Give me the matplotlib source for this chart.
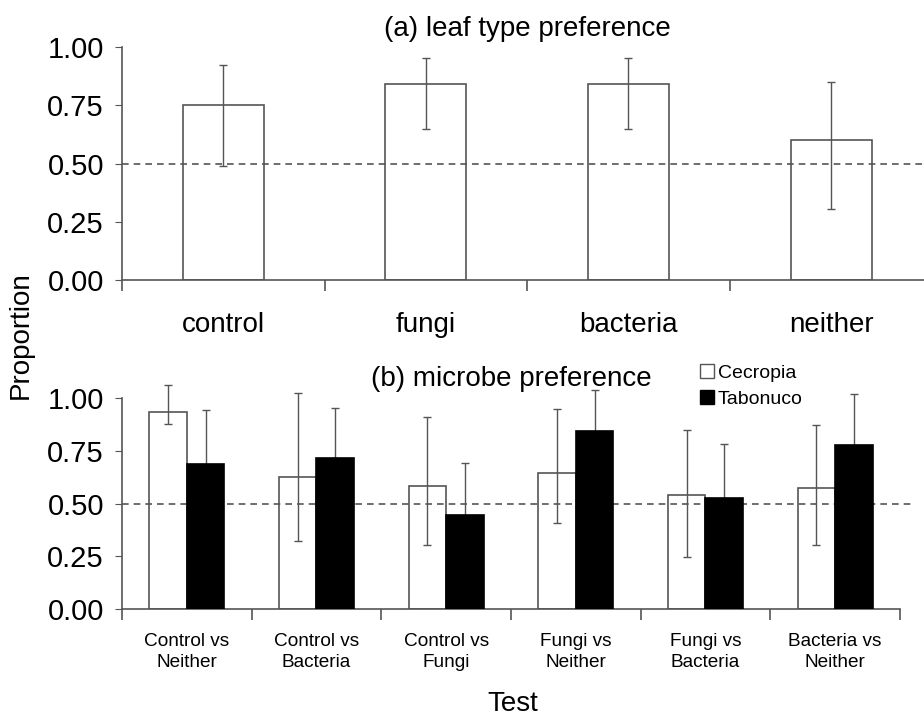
import matplotlib
matplotlib.use("Agg")
import matplotlib.pyplot as plt
import numpy as np
from matplotlib.patches import Patch

plt.rcParams['font.family'] = ['Liberation Sans', 'DejaVu Sans']

# (a) leaf type preference
leaf_cats = ["control", "fungi", "bacteria", "neither"]
leaf_vals = [0.75, 0.84, 0.84, 0.60]
leaf_lo = [0.49, 0.65, 0.65, 0.305]
leaf_hi = [0.925, 0.955, 0.955, 0.85]

# (b) microbe preference
tests = ["Control vs\nNeither", "Control vs\nBacteria", "Control vs\nFungi",
         "Fungi vs\nNeither", "Fungi vs\nBacteria", "Bacteria vs\nNeither"]
cec_vals = [0.935, 0.625, 0.585, 0.645, 0.54, 0.575]
cec_lo = [0.878, 0.324, 0.304, 0.407, 0.248, 0.304]
cec_hi = [1.063, 1.027, 0.911, 0.951, 0.850, 0.873]
tab_vals = [0.687, 0.717, 0.446, 0.845, 0.528, 0.78]
tab_hi = [0.943, 0.954, 0.691, 1.04, 0.785, 1.019]

edge = "#555555"

fig = plt.figure(figsize=(9.24, 7.18), dpi=100)

def style_axis(ax, n):
    for s in ["top", "right"]:
        ax.spines[s].set_visible(False)
    for s in ["left", "bottom"]:
        ax.spines[s].set_color(edge)
        ax.spines[s].set_linewidth(1.2)
    ax.set_ylim(0, 1)
    ax.set_yticks([0, 0.25, 0.5, 0.75, 1.0])
    ax.set_yticklabels(["0.00", "0.25", "0.50", "0.75", "1.00"])
    ax.set_xlim(0, n)
    ax.set_xticks(np.arange(0, n + 1))
    ax.set_xticklabels([])
    ax.tick_params(axis="y", direction="out", length=5, color=edge, labelsize=21, pad=8)
    ax.tick_params(axis="x", which="major", direction="out", length=8, color=edge, width=1.2)
    ax.tick_params(axis="x", which="minor", length=0)

# panel a
ax1 = fig.add_axes([0.132, 0.610, 0.877, 0.3245])
style_axis(ax1, 4)
xa = np.arange(len(leaf_cats)) + 0.5
va = np.array(leaf_vals)
ax1.bar(xa, va, width=0.4, color="white", edgecolor=edge, linewidth=1.2, zorder=1)
ax1.axhline(0.5, color=edge, linestyle=(0, (4, 3)), linewidth=1.2, zorder=2)
ax1.errorbar(xa, va, yerr=[va - np.array(leaf_lo), np.array(leaf_hi) - va],
             fmt="none", ecolor=edge, elinewidth=1, capsize=3, zorder=4, clip_on=False)
ax1.set_xticks(xa, minor=True)
ax1.set_xticklabels(leaf_cats, minor=True, fontsize=20)
ax1.tick_params(axis="x", which="minor", pad=23)
ax1.set_title("(a) leaf type preference", fontsize=20, pad=8)

# panel b
ax2 = fig.add_axes([0.132, 0.1518, 0.842, 0.2935])
style_axis(ax2, 6)
xb = np.arange(len(tests)) + 0.5
w = 0.29
cv = np.array(cec_vals)
tv = np.array(tab_vals)
ax2.bar(xb - w / 2, cv, width=w, color="white", edgecolor=edge, linewidth=1.2, zorder=1)
ax2.plot([0, 6.1], [0.5, 0.5], color=edge, linestyle=(0, (4, 3)), linewidth=1.2,
         zorder=2, clip_on=False)
tab_err = np.array(tab_hi) - tv
ax2.errorbar(xb + w / 2, tv, yerr=[tab_err, tab_err],
             fmt="none", ecolor=edge, elinewidth=1, capsize=3, zorder=2.5, clip_on=False)
ax2.bar(xb + w / 2, tv, width=w, color="black", edgecolor="black", linewidth=1.2, zorder=3)
ax2.errorbar(xb - w / 2, cv, yerr=[cv - np.array(cec_lo), np.array(cec_hi) - cv],
             fmt="none", ecolor=edge, elinewidth=1, capsize=3, zorder=4, clip_on=False)
ax2.set_xticks(xb, minor=True)
ax2.set_xticklabels(tests, minor=True, fontsize=13.7, linespacing=1.3)
ax2.tick_params(axis="x", which="minor", pad=17)
ax2.set_title("(b) microbe preference", fontsize=20, pad=9)

handles = [Patch(facecolor="white", edgecolor=edge, label="Cecropia"),
           Patch(facecolor="black", edgecolor="black", label="Tabonuco")]
fig.legend(handles=handles, loc="upper left", bbox_to_anchor=(0.758, 0.493),
           frameon=False, fontsize=14, handlelength=0.7, handleheight=0.7,
           handletextpad=0.2, labelspacing=0.45, borderaxespad=0, borderpad=0)

fig.text(0.022, 0.533, "Proportion", rotation=90, fontsize=20, va="center", ha="center")
fig.text(0.555, 0.02, "Test", fontsize=20, va="center", ha="center")

fig.savefig("out.png", dpi=100)
